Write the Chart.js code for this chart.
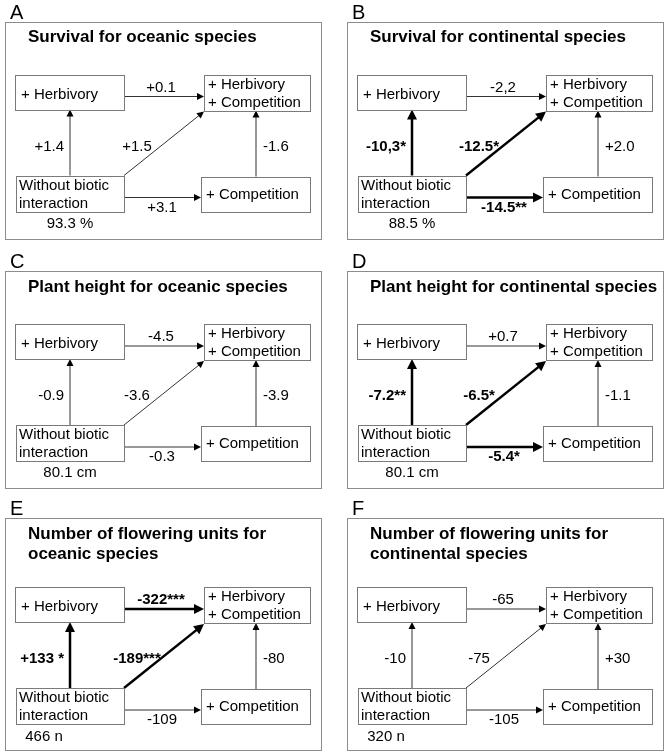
<!DOCTYPE html>
<html><head><meta charset="utf-8">
<script src="https://cdn.jsdelivr.net/npm/chart.js@4.4.0/dist/chart.umd.min.js"></script>
<style>html,body{margin:0;padding:0;background:#fff;}canvas{display:block;}</style>
</head><body>
<canvas id="c" width="668" height="756"></canvas>
<script>
// ---------- data ----------
const panelLetters = ['A', 'B', 'C', 'D', 'E', 'F'];
const panelTitles = [
  ['Survival for oceanic species'],
  ['Survival for continental species'],
  ['Plant height for oceanic species'],
  ['Plant height for continental species'],
  ['Number of flowering units for', 'oceanic species'],
  ['Number of flowering units for', 'continental species']
];
const baselineValues = ['93.3 %', '88.5 %', '80.1 cm', '80.1 cm', '466 n', '320 n'];
const herbToBoth = ['+0.1', '-2,2', '-4.5', '+0.7', '-322***', '-65'];
const noneToHerb = ['+1.4', '-10,3*', '-0.9', '-7.2**', '+133 *', '-10'];
const noneToBoth = ['+1.5', '-12.5*', '-3.6', '-6.5*', '-189***', '-75'];
const compToBoth = ['-1.6', '+2.0', '-3.9', '-1.1', '-80', '+30'];
const noneToComp = ['+3.1', '-14.5**', '-0.3', '-5.4*', '-109', '-105'];
const boxHerb = ['+ Herbivory'];
const boxBoth = ['+ Herbivory', '+ Competition'];
const boxNone = ['Without biotic', 'interaction'];
const boxComp = ['+ Competition'];

// ---------- layout ----------
const PANEL_X = [5, 347, 5, 347, 5, 347];
const PANEL_Y = [21.5, 21.5, 271, 271, 518, 518];
const PANEL_W = 316;
const PANEL_H = [217, 217, 217, 217, 232, 232];
const SHIFT = [0, 0, 0, 0, 16, 16];
const BOX = {
  herb: [10, 53, 119, 88],
  both: [199, 53, 305, 89],
  none: [11, 154, 119, 190],
  comp: [196, 155, 305, 190]
};
const ARROWS = [
  { labels: herbToBoth, from: [119, 75], to: [199, 75], lx: 156, ly: 66, align: 'center' },
  { labels: noneToHerb, from: [65, 154], to: [65, 88], lx: 59, ly: 125, align: 'right' },
  { labels: noneToBoth, from: [119, 154], to: [199, 90], lx: 132, ly: 125, align: 'center' },
  { labels: compToBoth, from: [251, 155], to: [251, 89], lx: 258, ly: 125, align: 'left' },
  { labels: noneToComp, from: [119, 176], to: [196, 176], lx: 157, ly: 186, align: 'center' }
];
const FONT = '"Liberation Sans", Arial, Helvetica, sans-serif';
const isBold = s => s.indexOf('*') >= 0;
const headSize = b => b ? { len: 10, half: 5 } : { len: 7, half: 3.5 };

// arrow shafts as datasets
const datasets = [];
panelLetters.forEach((_, p) => {
  const ox = PANEL_X[p], oy = PANEL_Y[p] + SHIFT[p];
  ARROWS.forEach(a => {
    const b = isBold(a.labels[p]);
    const x1 = ox + a.from[0], y1 = oy + a.from[1];
    const x2 = ox + a.to[0], y2 = oy + a.to[1];
    const d = Math.hypot(x2 - x1, y2 - y1);
    const cut = headSize(b).len - 1;
    datasets.push({
      data: [{ x: x1, y: y1 }, { x: x2 - (x2 - x1) / d * cut, y: y2 - (y2 - y1) / d * cut }],
      showLine: true,
      borderColor: b ? '#000' : '#333',
      borderWidth: b ? 2.5 : 1,
      pointRadius: 0,
      fill: false,
      tension: 0,
      arrowTip: { x: x2, y: y2, fx: x1, fy: y1, bold: b }
    });
  });
});

const diagramPlugin = {
  id: 'diagram',
  afterDatasetsDraw(chart) {
    const ctx = chart.ctx;
    const xs = chart.scales.x, ys = chart.scales.y;
    const px = v => xs.getPixelForValue(v), py = v => ys.getPixelForValue(v);
    ctx.save();
    // arrowheads
    chart.data.datasets.forEach(ds => {
      const t = ds.arrowTip;
      const hx = px(t.x), hy = py(t.y), fx = px(t.fx), fy = py(t.fy);
      const ang = Math.atan2(hy - fy, hx - fx);
      const h = headSize(t.bold);
      ctx.fillStyle = '#000';
      ctx.beginPath();
      ctx.moveTo(hx, hy);
      ctx.lineTo(hx - h.len * Math.cos(ang) + h.half * Math.sin(ang), hy - h.len * Math.sin(ang) - h.half * Math.cos(ang));
      ctx.lineTo(hx - h.len * Math.cos(ang) - h.half * Math.sin(ang), hy - h.len * Math.sin(ang) + h.half * Math.cos(ang));
      ctx.closePath();
      ctx.fill();
    });
    panelLetters.forEach((letter, p) => {
      const ox = PANEL_X[p], oy = PANEL_Y[p], sh = SHIFT[p];
      // panel frame
      ctx.strokeStyle = '#8c8c8c';
      ctx.lineWidth = 1;
      ctx.strokeRect(Math.round(px(ox)) + 0.5, Math.round(py(oy)) + 0.5, PANEL_W, PANEL_H[p]);
      // letter
      ctx.fillStyle = '#000';
      ctx.textBaseline = 'alphabetic';
      ctx.textAlign = 'left';
      ctx.font = '20px ' + FONT;
      ctx.fillText(letter, px(ox + 5), py(oy - 3));
      // title
      ctx.font = 'bold 17px ' + FONT;
      panelTitles[p].forEach((line, i) => ctx.fillText(line, px(ox + 23), py(oy + 20.5 + i * 20)));
      // boxes
      ctx.strokeStyle = '#7a7a7a';
      Object.keys(BOX).forEach(k => {
        const b = BOX[k];
        const x0 = Math.round(px(ox + b[0])) + 0.5, y0 = Math.round(py(oy + sh + b[1])) + 0.5;
        ctx.strokeRect(x0, y0, b[2] - b[0], b[3] - b[1]);
      });
      ctx.font = '15px ' + FONT;
      ctx.textBaseline = 'middle';
      ctx.fillText(boxHerb[0], px(ox + 16), py(oy + sh + 73));
      boxBoth.forEach((t, i) => ctx.fillText(t, px(ox + 203), py(oy + sh + 63 + i * 18)));
      boxNone.forEach((t, i) => ctx.fillText(t, px(ox + 14), py(oy + sh + 164 + i * 18)));
      ctx.fillText(boxComp[0], px(ox + 201), py(oy + sh + 173));
      // arrow labels
      ARROWS.forEach(a => {
        const s = a.labels[p];
        ctx.font = (isBold(s) ? 'bold ' : '') + '15px ' + FONT;
        ctx.textAlign = a.align;
        ctx.fillText(s, px(ox + a.lx), py(oy + sh + a.ly));
      });
      // baseline value
      ctx.font = '15px ' + FONT;
      ctx.textAlign = 'center';
      ctx.fillText(baselineValues[p], px(ox + (sh ? 39 : 65)), py(oy + sh + 202 + (sh ? 1 : 0)));
    });
    ctx.restore();
  }
};

new Chart(document.getElementById('c'), {
  type: 'scatter',
  data: { datasets },
  options: {
    responsive: false,
    animation: false,
    events: [],
    layout: { padding: 0 },
    plugins: { legend: { display: false }, tooltip: { enabled: false }, title: { display: false } },
    scales: {
      x: { type: 'linear', min: 0, max: 668, display: false },
      y: { type: 'linear', min: 0, max: 756, reverse: true, display: false }
    }
  },
  plugins: [diagramPlugin]
});
</script>
</body></html>
